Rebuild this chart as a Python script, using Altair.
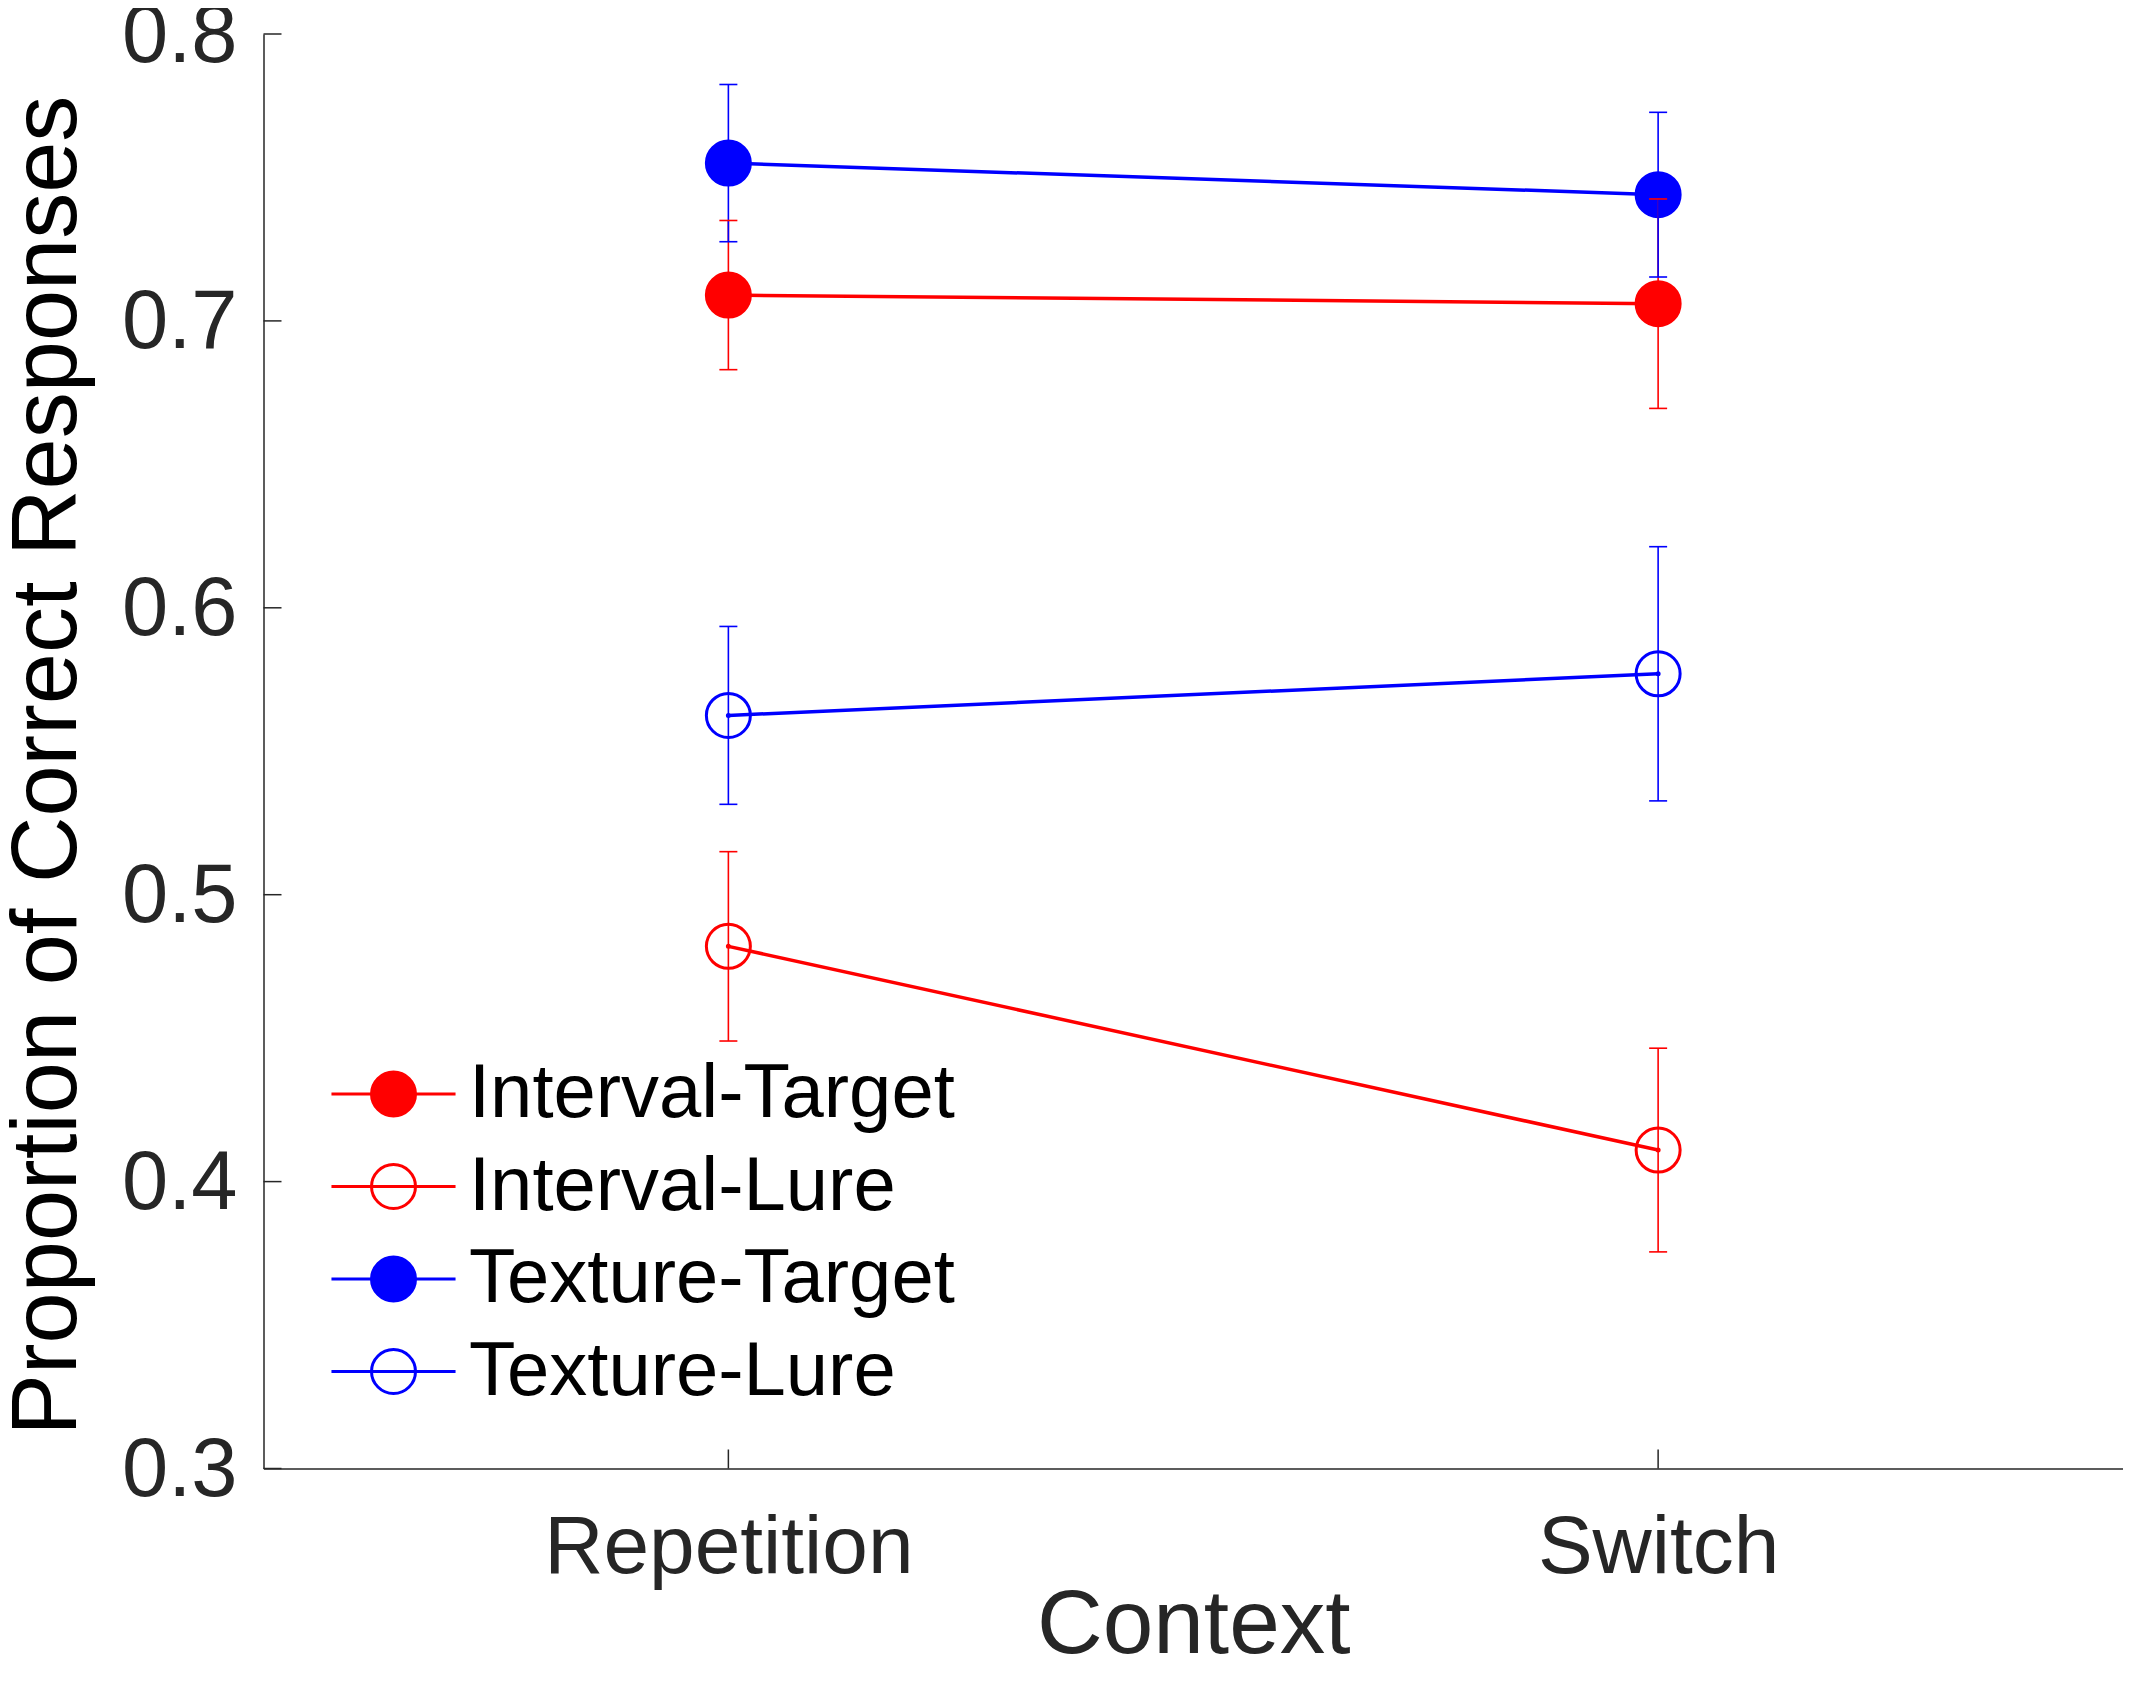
import json
import altair as alt
import pandas as pd

# ---- data ----
categories = ["Repetition", "Switch"]
series_names = ["Interval-Target", "Interval-Lure", "Texture-Target", "Texture-Lure"]
series_colors = ["#ff0000", "#ff0000", "#0000ff", "#0000ff"]
series_fills = ["#ff0000", "transparent", "#0000ff", "transparent"]

interval_target_mean = [0.709, 0.706]
interval_target_err = [0.026, 0.0365]
interval_lure_mean = [0.482, 0.411]
interval_lure_err = [0.033, 0.0355]
texture_target_mean = [0.755, 0.744]
texture_target_err = [0.0274, 0.0287]
texture_lure_mean = [0.5625, 0.577]
texture_lure_err = [0.031, 0.0443]

y_ticks = [0.3, 0.4, 0.5, 0.6, 0.7, 0.8]
x_ticks = [1, 2]

means = [interval_target_mean, interval_lure_mean, texture_target_mean, texture_lure_mean]
errs = [interval_target_err, interval_lure_err, texture_target_err, texture_lure_err]

rows = []
for s, m, e in zip(series_names, means, errs):
    for i, c in enumerate(categories):
        rows.append({"series": s, "context": c, "pos": i + 1,
                     "mean": m[i], "lo": m[i] - e[i], "hi": m[i] + e[i]})
df = pd.DataFrame(rows)

W, H = 1859.5, 1434.5
FONT = "Liberation Sans"
AX = "#262626"

stroke_scale = alt.Scale(domain=series_names, range=series_colors)
fill_scale = alt.Scale(domain=series_names, range=series_fills)

legend_path = "M -2.82 0 L 2.82 0 M -1 0 A 1 1 0 1 1 1 0 A 1 1 0 1 1 -1 0 Z"
leg = alt.Legend(title=None, orient="none", legendX=92, legendY=1022,
                 symbolType=legend_path, symbolSize=1936, symbolStrokeWidth=3,
                 symbolOpacity=1, labelFont=FONT, labelFontSize=76,
                 labelColor="black", labelOffset=37.5, rowPadding=16.5,
                 padding=0, labelLimit=1000)

x_scale = alt.Scale(domain=[0.5, 2.5], nice=False, zero=False)
y_scale = alt.Scale(domain=[0.3, 0.8], nice=False, zero=False)

x_enc = alt.X("pos:Q", scale=x_scale,
              axis=alt.Axis(values=x_ticks, labelExpr=f"{json.dumps(categories)}[datum.value - 1]",
                            ticks=False, tickSize=0, grid=False, labelFlush=False,
                            labelLimit=1000,
                            labelFont=FONT, labelFontSize=82, labelColor=AX,
                            labelBaseline="alphabetic", labelPadding=104,
                            domainColor=AX, domainWidth=1.5,
                            title="Context", titleFont=FONT, titleFontSize=91,
                            titleFontWeight="normal", titleColor=AX, titleLimit=2000,
                            titleBaseline="alphabetic", titleY=184))
y_enc = alt.Y("mean:Q", scale=y_scale,
              axis=alt.Axis(values=y_ticks, format=".1f", ticks=False, tickSize=0,
                            grid=False, labelFont=FONT, labelFontSize=83,
                            labelColor=AX, labelPadding=26.5, labelOverlap=False,
                            labelFlush=False, labelOffset=2, labelLimit=1000,
                            domainColor=AX, domainWidth=1.5,
                            title="Proportion of Correct Responses", titleFont=FONT,
                            titleFontSize=92, titleFontWeight="normal", titleLimit=3000,
                            titleColor="black", titleAngle=270, titleX=-188,
                            titleY=731, titleBaseline="alphabetic", titleAlign="center"))

stroke_enc = alt.Stroke("series:N", scale=stroke_scale, legend=leg)
fill_enc = alt.Fill("series:N", scale=fill_scale, legend=leg)

base = alt.Chart(df)

lines = base.mark_line(strokeWidth=3.5).encode(
    x=x_enc, y=y_enc, stroke=stroke_enc, order="pos:Q")

points = base.mark_point(size=1936, strokeWidth=3, opacity=1, shape="circle").encode(
    x="pos:Q", y="mean:Q", stroke=stroke_enc, fill=fill_enc)

bars = base.mark_rule(strokeWidth=1.6).encode(
    x="pos:Q", y="lo:Q", y2="hi:Q", stroke=stroke_enc)

caps = base.transform_fold(["lo", "hi"], as_=["end", "val"]).mark_rule(
    strokeWidth=1.6, xOffset=-9, x2Offset=9).encode(
    x="pos:Q", x2="pos:Q", y=alt.Y("val:Q"), stroke=stroke_enc)

dots = base.mark_point(size=4, strokeWidth=3, opacity=1, filled=False).encode(
    x="pos:Q", y="mean:Q", stroke=stroke_enc)

ytick_layer = alt.Chart(pd.DataFrame({"mean": y_ticks})).mark_rule(
    color=AX, strokeWidth=1.5).encode(
    y="mean:Q", x=alt.value(0), x2=alt.value(18))
xtick_layer = alt.Chart(pd.DataFrame({"pos": x_ticks})).mark_rule(
    color=AX, strokeWidth=1.5).encode(
    x="pos:Q", y=alt.value(H), y2=alt.value(H - 19))

chart = alt.layer(lines, points, bars, caps, dots, ytick_layer, xtick_layer).properties(
    width=W, height=H,
    autosize=alt.AutoSizeParams(type="none"),
    padding={"left": 255.5, "top": 26, "right": 0, "bottom": 204},
    background="white",
).configure_view(strokeWidth=0)

chart.save("out.html", embed_options={"renderer": "svg", "actions": False})
